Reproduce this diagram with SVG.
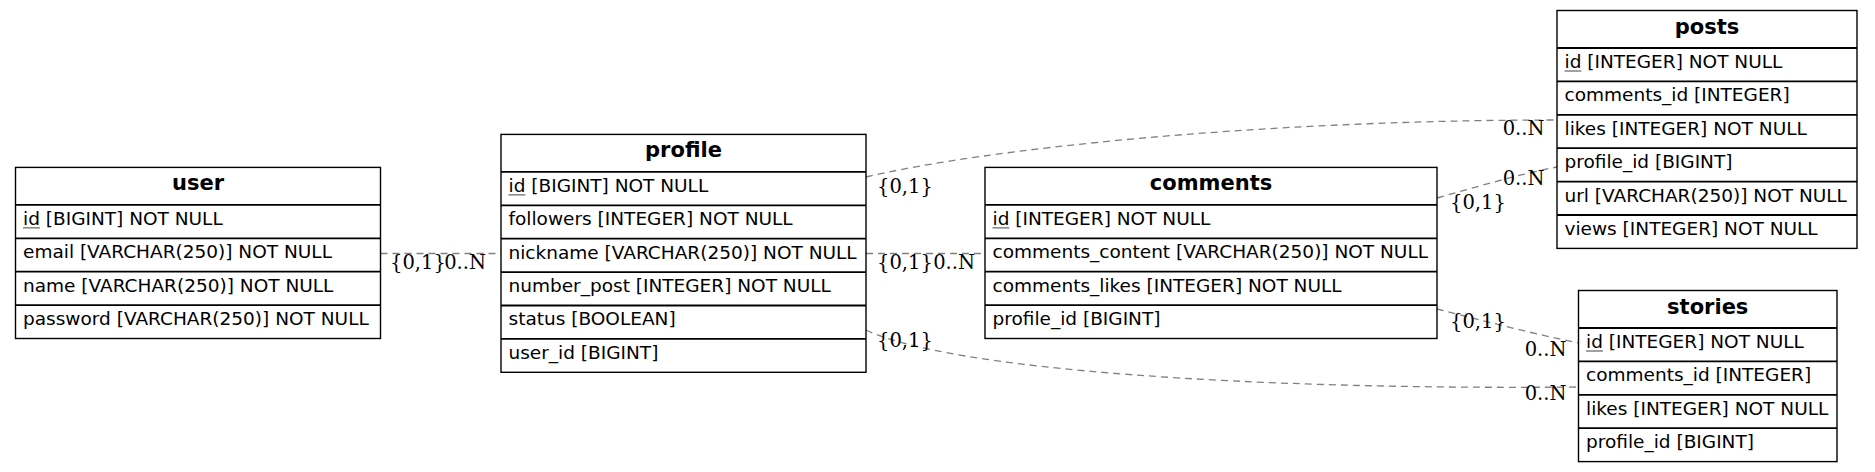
<svg xmlns="http://www.w3.org/2000/svg" width="1875" height="472" viewBox="0 0 1875 472">
<style>
.bg{fill:#fff}
.box{fill:#fff;stroke:#000;stroke-width:1.4}
.sep{stroke:#000;stroke-width:1.8}
.t{font-family:"DejaVu Sans",sans-serif;font-size:18.5px;fill:#000}
.h{font-family:"DejaVu Sans",sans-serif;font-size:21px;font-weight:bold;text-anchor:middle;fill:#000}
.ul{stroke:#444;stroke-width:1}
.e{fill:none;stroke:#808080;stroke-width:1.3;stroke-dasharray:7,5}
.l{font-family:"DejaVu Serif",serif;font-size:19.5px;fill:#000}
.r{text-anchor:end}
</style>
<rect class="bg" x="0" y="0" width="1875" height="472"/>
<g id="connectors">
<path class="e" d="M380.5,253.5 L501,253.5"/>
<path class="e" d="M866,253.5 L985,253.5"/>
<path class="e" d="M866,177 C980,150 1250,120 1557,120"/>
<path class="e" d="M1437,198 C1480,186 1520,174 1557,167"/>
<path class="e" d="M1437,309 C1480,320 1530,333 1578.5,343"/>
<path class="e" d="M866,330 C950,370 1250,390 1578.5,387"/>
<text class="l" x="390" y="268.5">{0,1}</text>
<text class="l r" x="486" y="268.5">0..N</text>
<text class="l" x="877" y="268.5">{0,1}</text>
<text class="l r" x="975" y="268.5">0..N</text>
<text class="l" x="877" y="192.5">{0,1}</text>
<text class="l r" x="1544.5" y="135">0..N</text>
<text class="l" x="1450" y="209">{0,1}</text>
<text class="l r" x="1544.5" y="185">0..N</text>
<text class="l" x="1450" y="327.5">{0,1}</text>
<text class="l r" x="1566.5" y="356">0..N</text>
<text class="l" x="877" y="347">{0,1}</text>
<text class="l r" x="1566.5" y="400">0..N</text>
</g>
<g id="user" transform="translate(15.5,167.4)">
<rect class="box" x="0" y="0" width="365" height="171.1"/>
<line class="sep" x1="0" y1="37.5" x2="365" y2="37.5"/>
<line class="sep" x1="0" y1="70.9" x2="365" y2="70.9"/>
<line class="sep" x1="0" y1="104.3" x2="365" y2="104.3"/>
<line class="sep" x1="0" y1="137.7" x2="365" y2="137.7"/>
<text class="h" x="182.5" y="23">user</text>
<text class="t" x="7.5" y="57.5">id [BIGINT] NOT NULL</text>
<line class="ul" x1="7.5" y1="60.5" x2="24.4" y2="60.5"/>
<text class="t" x="7.5" y="90.9">email [VARCHAR(250)] NOT NULL</text>
<text class="t" x="7.5" y="124.3">name [VARCHAR(250)] NOT NULL</text>
<text class="t" x="7.5" y="157.7">password [VARCHAR(250)] NOT NULL</text>
</g>
<g id="profile" transform="translate(501,134.4)">
<rect class="box" x="0" y="0" width="365" height="237.9"/>
<line class="sep" x1="0" y1="37.5" x2="365" y2="37.5"/>
<line class="sep" x1="0" y1="70.9" x2="365" y2="70.9"/>
<line class="sep" x1="0" y1="104.3" x2="365" y2="104.3"/>
<line class="sep" x1="0" y1="137.7" x2="365" y2="137.7"/>
<line class="sep" x1="0" y1="171.1" x2="365" y2="171.1"/>
<line class="sep" x1="0" y1="204.5" x2="365" y2="204.5"/>
<text class="h" x="182.5" y="23">profile</text>
<text class="t" x="7.5" y="57.5">id [BIGINT] NOT NULL</text>
<line class="ul" x1="7.5" y1="60.5" x2="24.4" y2="60.5"/>
<text class="t" x="7.5" y="90.9">followers [INTEGER] NOT NULL</text>
<text class="t" x="7.5" y="124.3">nickname [VARCHAR(250)] NOT NULL</text>
<text class="t" x="7.5" y="157.7">number_post [INTEGER] NOT NULL</text>
<text class="t" x="7.5" y="191.1">status [BOOLEAN]</text>
<text class="t" x="7.5" y="224.5">user_id [BIGINT]</text>
</g>
<g id="comments" transform="translate(985,167.4)">
<rect class="box" x="0" y="0" width="452" height="171.1"/>
<line class="sep" x1="0" y1="37.5" x2="452" y2="37.5"/>
<line class="sep" x1="0" y1="70.9" x2="452" y2="70.9"/>
<line class="sep" x1="0" y1="104.3" x2="452" y2="104.3"/>
<line class="sep" x1="0" y1="137.7" x2="452" y2="137.7"/>
<text class="h" x="226" y="23">comments</text>
<text class="t" x="7.5" y="57.5">id [INTEGER] NOT NULL</text>
<line class="ul" x1="7.5" y1="60.5" x2="24.4" y2="60.5"/>
<text class="t" x="7.5" y="90.9">comments_content [VARCHAR(250)] NOT NULL</text>
<text class="t" x="7.5" y="124.3">comments_likes [INTEGER] NOT NULL</text>
<text class="t" x="7.5" y="157.7">profile_id [BIGINT]</text>
</g>
<g id="posts" transform="translate(1557,10.5)">
<rect class="box" x="0" y="0" width="300" height="237.9"/>
<line class="sep" x1="0" y1="37.5" x2="300" y2="37.5"/>
<line class="sep" x1="0" y1="70.9" x2="300" y2="70.9"/>
<line class="sep" x1="0" y1="104.3" x2="300" y2="104.3"/>
<line class="sep" x1="0" y1="137.7" x2="300" y2="137.7"/>
<line class="sep" x1="0" y1="171.1" x2="300" y2="171.1"/>
<line class="sep" x1="0" y1="204.5" x2="300" y2="204.5"/>
<text class="h" x="150" y="23">posts</text>
<text class="t" x="7.5" y="57.5">id [INTEGER] NOT NULL</text>
<line class="ul" x1="7.5" y1="60.5" x2="24.4" y2="60.5"/>
<text class="t" x="7.5" y="90.9">comments_id [INTEGER]</text>
<text class="t" x="7.5" y="124.3">likes [INTEGER] NOT NULL</text>
<text class="t" x="7.5" y="157.7">profile_id [BIGINT]</text>
<text class="t" x="7.5" y="191.1">url [VARCHAR(250)] NOT NULL</text>
<text class="t" x="7.5" y="224.5">views [INTEGER] NOT NULL</text>
</g>
<g id="stories" transform="translate(1578.5,290.5)">
<rect class="box" x="0" y="0" width="258.5" height="171.1"/>
<line class="sep" x1="0" y1="37.5" x2="258.5" y2="37.5"/>
<line class="sep" x1="0" y1="70.9" x2="258.5" y2="70.9"/>
<line class="sep" x1="0" y1="104.3" x2="258.5" y2="104.3"/>
<line class="sep" x1="0" y1="137.7" x2="258.5" y2="137.7"/>
<text class="h" x="129.25" y="23">stories</text>
<text class="t" x="7.5" y="57.5">id [INTEGER] NOT NULL</text>
<line class="ul" x1="7.5" y1="60.5" x2="24.4" y2="60.5"/>
<text class="t" x="7.5" y="90.9">comments_id [INTEGER]</text>
<text class="t" x="7.5" y="124.3">likes [INTEGER] NOT NULL</text>
<text class="t" x="7.5" y="157.7">profile_id [BIGINT]</text>
</g>
</svg>
